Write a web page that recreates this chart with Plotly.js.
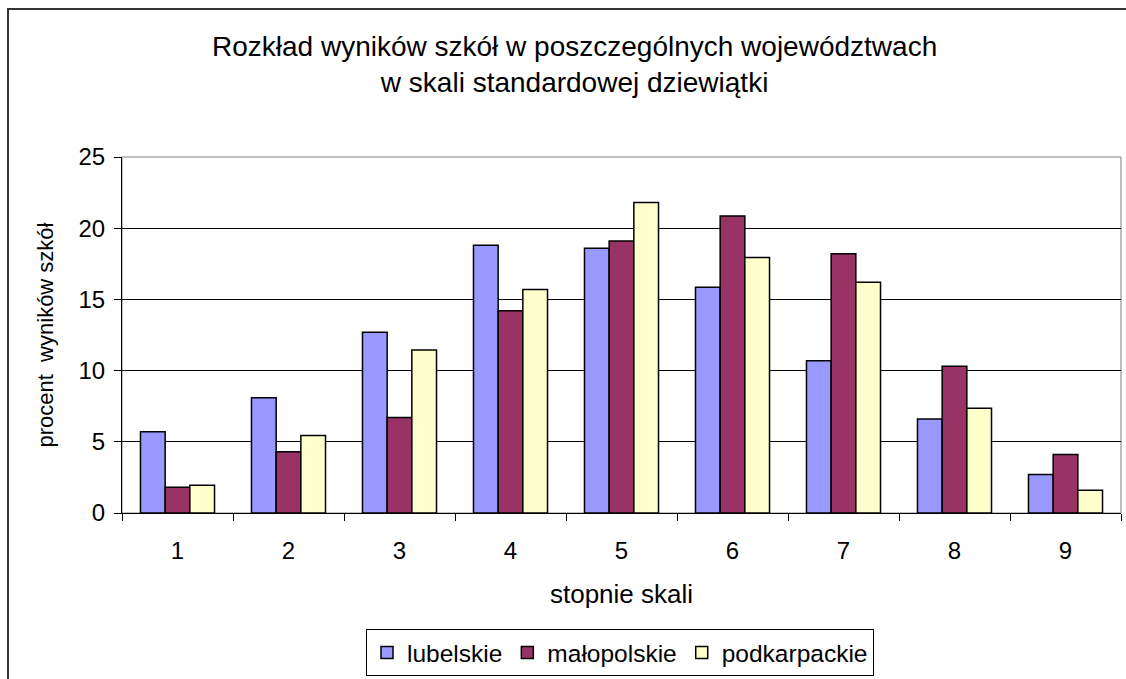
<!DOCTYPE html>
<html>
<head>
<meta charset="utf-8">
<script src="https://cdn.plot.ly/plotly-3.0.1.min.js"></script>
<style>
  body { margin: 0; background: #fff; }
  #chart { width: 1126px; height: 679px; position: absolute; left: 0; top: 0; }
  #frame { position: absolute; left: 7px; top: 8px; width: 1130px; height: 700px;
           border-left: 2px solid #333; border-top: 2px solid #333; pointer-events: none; }
</style>
</head>
<body>
<div id="chart"></div>
<div id="frame"></div>
<script>
const categories = ["1", "2", "3", "4", "5", "6", "7", "8", "9"];
const lubelskie    = [5.7, 8.1, 12.7, 18.8, 18.6, 15.85, 10.7, 6.6, 2.7];
const malopolskie  = [1.8, 4.3, 6.7, 14.2, 19.1, 20.85, 18.2, 10.3, 4.1];
const podkarpackie = [1.95, 5.45, 11.45, 15.7, 21.8, 17.95, 16.2, 7.35, 1.6];
const seriesNames = ["lubelskie", "małopolskie", "podkarpackie"];
const seriesColors = ["#9999ff", "#993366", "#ffffcc"];
const seriesValues = [lubelskie, malopolskie, podkarpackie];
const titleText = "Rozkład wyników szkół w poszczególnych województwach<br>w skali standardowej dziewiątki";

const traces = seriesValues.map((vals, i) => ({
  type: "bar",
  name: seriesNames[i],
  x: categories,
  y: vals,
  marker: { color: seriesColors[i], line: { color: "#000", width: 1.5 } },
  hoverinfo: "x+y+name"
}));

const font = "Arial, 'Liberation Sans', sans-serif";
const layout = {
  width: 1126, height: 679,
  margin: { l: 122, r: 5, t: 157, b: 166 },
  paper_bgcolor: "rgba(0,0,0,0)",
  plot_bgcolor: "#fff",
  barmode: "group",
  bargap: 0.333,
  bargroupgap: 0,
  font: { family: font, color: "#000", size: 24 },
  xaxis: {
    type: "category",
    automargin: false,
    showline: true, linecolor: "#000", linewidth: 1,
    ticks: "outside", tickson: "boundaries", ticklen: 7, tickcolor: "#000",
    tickfont: { family: font, size: 24 },
    ticklabelstandoff: 16,
    showgrid: false,
    title: { text: "stopnie skali", font: { family: font, size: 26 }, standoff: 22 }
  },
  yaxis: {
    range: [0, 25], dtick: 5,
    automargin: false,
    showline: true, linecolor: "#000", linewidth: 1,
    ticks: "outside", ticklen: 7, tickcolor: "#000",
    tickfont: { family: font, size: 24 },
    ticklabelstandoff: 4,
    showgrid: true, gridcolor: "#000", gridwidth: 1,
    zeroline: false,
    title: { text: "procent\u00a0 wyników szkół", font: { family: font, size: 22 }, standoff: 18 }
  },
  legend: {
    orientation: "h",
    xref: "container", yref: "container",
    x: 620 / 1126, xanchor: "center",
    y: (679 - 629) / 679, yanchor: "top",
    bordercolor: "#000", borderwidth: 1,
    bgcolor: "#fff",
    font: { family: font, size: 24.5 },
    itemwidth: 30
  },
  annotations: [{
    text: titleText, showarrow: false,
    xref: "paper", yref: "paper",
    x: (574 - 122) / 999, y: (513 - 64.5) / 356,
    xanchor: "center", yanchor: "middle",
    font: { family: font, size: 28, color: "#000" }
  }],
  shapes: [{
    type: "rect", xref: "paper", yref: "paper", x0: 0, x1: 1, y0: 0, y1: 1,
    line: { color: "#808080", width: 1 }, layer: "below"
  }]
};

Plotly.newPlot("chart", traces, layout, { displayModeBar: false, staticPlot: true });
</script>
</body>
</html>
